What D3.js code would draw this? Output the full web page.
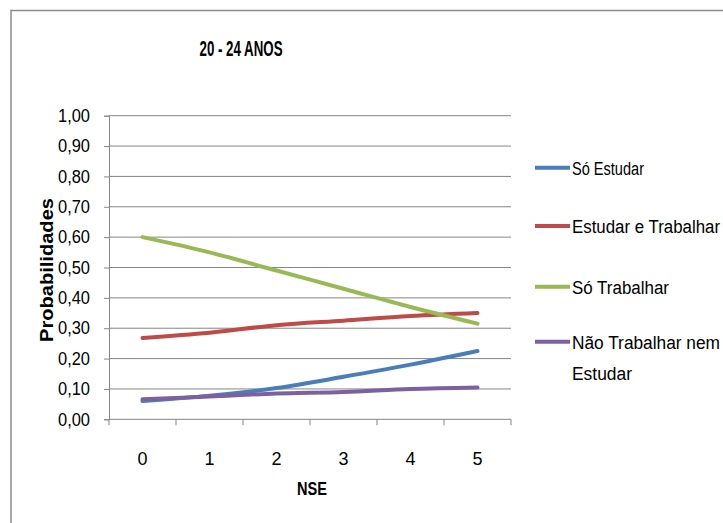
<!DOCTYPE html>
<html><head><meta charset="utf-8">
<script src="https://cdn.jsdelivr.net/npm/d3@7"></script>
<style>
body{margin:0;background:#fff;}
text{font-family:"Liberation Sans",Arial,sans-serif;}
</style></head>
<body><svg id="c" width="723" height="523"></svg>
<script>
const categories = ["0","1","2","3","4","5"];
const seriesNames = ["Só Estudar","Estudar e Trabalhar","Só Trabalhar","Não Trabalhar nem Estudar"];
const soEstudar = [0.060,0.078,0.103,0.140,0.180,0.225];
const estudarTrabalhar = [0.268,0.285,0.310,0.325,0.340,0.350];
const soTrabalhar = [0.600,0.550,0.490,0.430,0.370,0.315];
const naoTrabalhar = [0.066,0.075,0.085,0.090,0.100,0.105];
const yTicks = [0,0.1,0.2,0.3,0.4,0.5,0.6,0.7,0.8,0.9,1.0];
const colors = ["#4A7EBB","#BE4B48","#98B954","#7D60A0"];
const seriesValues = [soEstudar, estudarTrabalhar, soTrabalhar, naoTrabalhar];

const svg = d3.select("#c");
svg.append("rect").attr("x",11).attr("y",10.5).attr("width",730).attr("height",530)
  .attr("fill","#fff").attr("stroke","#8c8c8c").attr("stroke-width",1.5);

const L=109, R=511, T=115.7, B=419.3;
const x = d3.scaleBand().domain(categories).range([L,R]);
const y = d3.scaleLinear().domain([0,1]).range([B,T]);

function squeeze(sel, w){ sel.attr("textLength",w).attr("lengthAdjust","spacingAndGlyphs"); }

svg.append("g").selectAll("line").data(yTicks.slice(1)).join("line")
  .attr("x1",L).attr("x2",R).attr("y1",d=>y(d)).attr("y2",d=>y(d))
  .attr("stroke","#868686").attr("stroke-width",1);

const fmt = d => d3.format(".2f")(d).replace(".",",");
const yAxis = svg.append("g").attr("transform",`translate(${L},0)`)
  .call(d3.axisLeft(y).tickValues(yTicks).tickFormat(fmt).tickSize(5).tickPadding(14));
yAxis.attr("font-family",null);
yAxis.select(".domain").attr("stroke","#868686");
yAxis.selectAll(".tick line").attr("stroke","#868686");
yAxis.selectAll("text").attr("font-size",18).attr("fill","#000").call(squeeze,32);

const xg = svg.append("g").attr("transform",`translate(0,${B})`);
xg.append("line").attr("x1",L).attr("x2",R).attr("stroke","#868686");
const bounds = categories.map(c=>x(c)).concat([R]);
xg.selectAll("line.t").data(bounds).join("line").attr("class","t")
  .attr("x1",d=>d).attr("x2",d=>d).attr("y1",0).attr("y2",6).attr("stroke","#868686");
xg.selectAll("text").data(categories).join("text")
  .attr("x",d=>x(d)+x.bandwidth()/2).attr("y",45.5).attr("text-anchor","middle")
  .attr("font-size",18).text(d=>d);

const line = d3.line().x((d,i)=>x(categories[i])+x.bandwidth()/2).y(d=>y(d))
  .curve(d3.curveCatmullRom.alpha(0.5));
seriesValues.forEach((vals,k)=>{
  svg.append("path").datum(vals).attr("d",line).attr("fill","none")
    .attr("stroke",colors[k]).attr("stroke-width",4).attr("stroke-linecap","round");
});

svg.append("text").attr("x",241).attr("y",55.5).attr("text-anchor","middle")
  .attr("font-weight","bold").attr("font-size",22).text("20 - 24 ANOS").call(squeeze,83);
svg.append("text").attr("x",312).attr("y",495).attr("text-anchor","middle")
  .attr("font-weight","bold").attr("font-size",18).text("NSE").call(squeeze,30);
svg.append("text").attr("transform","translate(53,270) rotate(-90)").attr("text-anchor","middle")
  .attr("font-weight","bold").attr("font-size",18).text("Probabilidades").call(squeeze,144);

const legY = [167.7,226,286.7,341.7];
const legW = [72,148,97,148];
seriesNames.forEach((n,k)=>{
  svg.append("line").attr("x1",535).attr("x2",570).attr("y1",legY[k]).attr("y2",legY[k])
    .attr("stroke",colors[k]).attr("stroke-width",4);
  if(k===3){
    svg.append("text").attr("x",572).attr("y",legY[k]+7).attr("font-size",18)
      .text("Não Trabalhar nem").call(squeeze,148);
    svg.append("text").attr("x",572).attr("y",legY[k]+38).attr("font-size",18)
      .text("Estudar").call(squeeze,60);
  } else {
    svg.append("text").attr("x",572).attr("y",legY[k]+7).attr("font-size",18)
      .text(n).call(squeeze,legW[k]);
  }
});
</script></body></html>
